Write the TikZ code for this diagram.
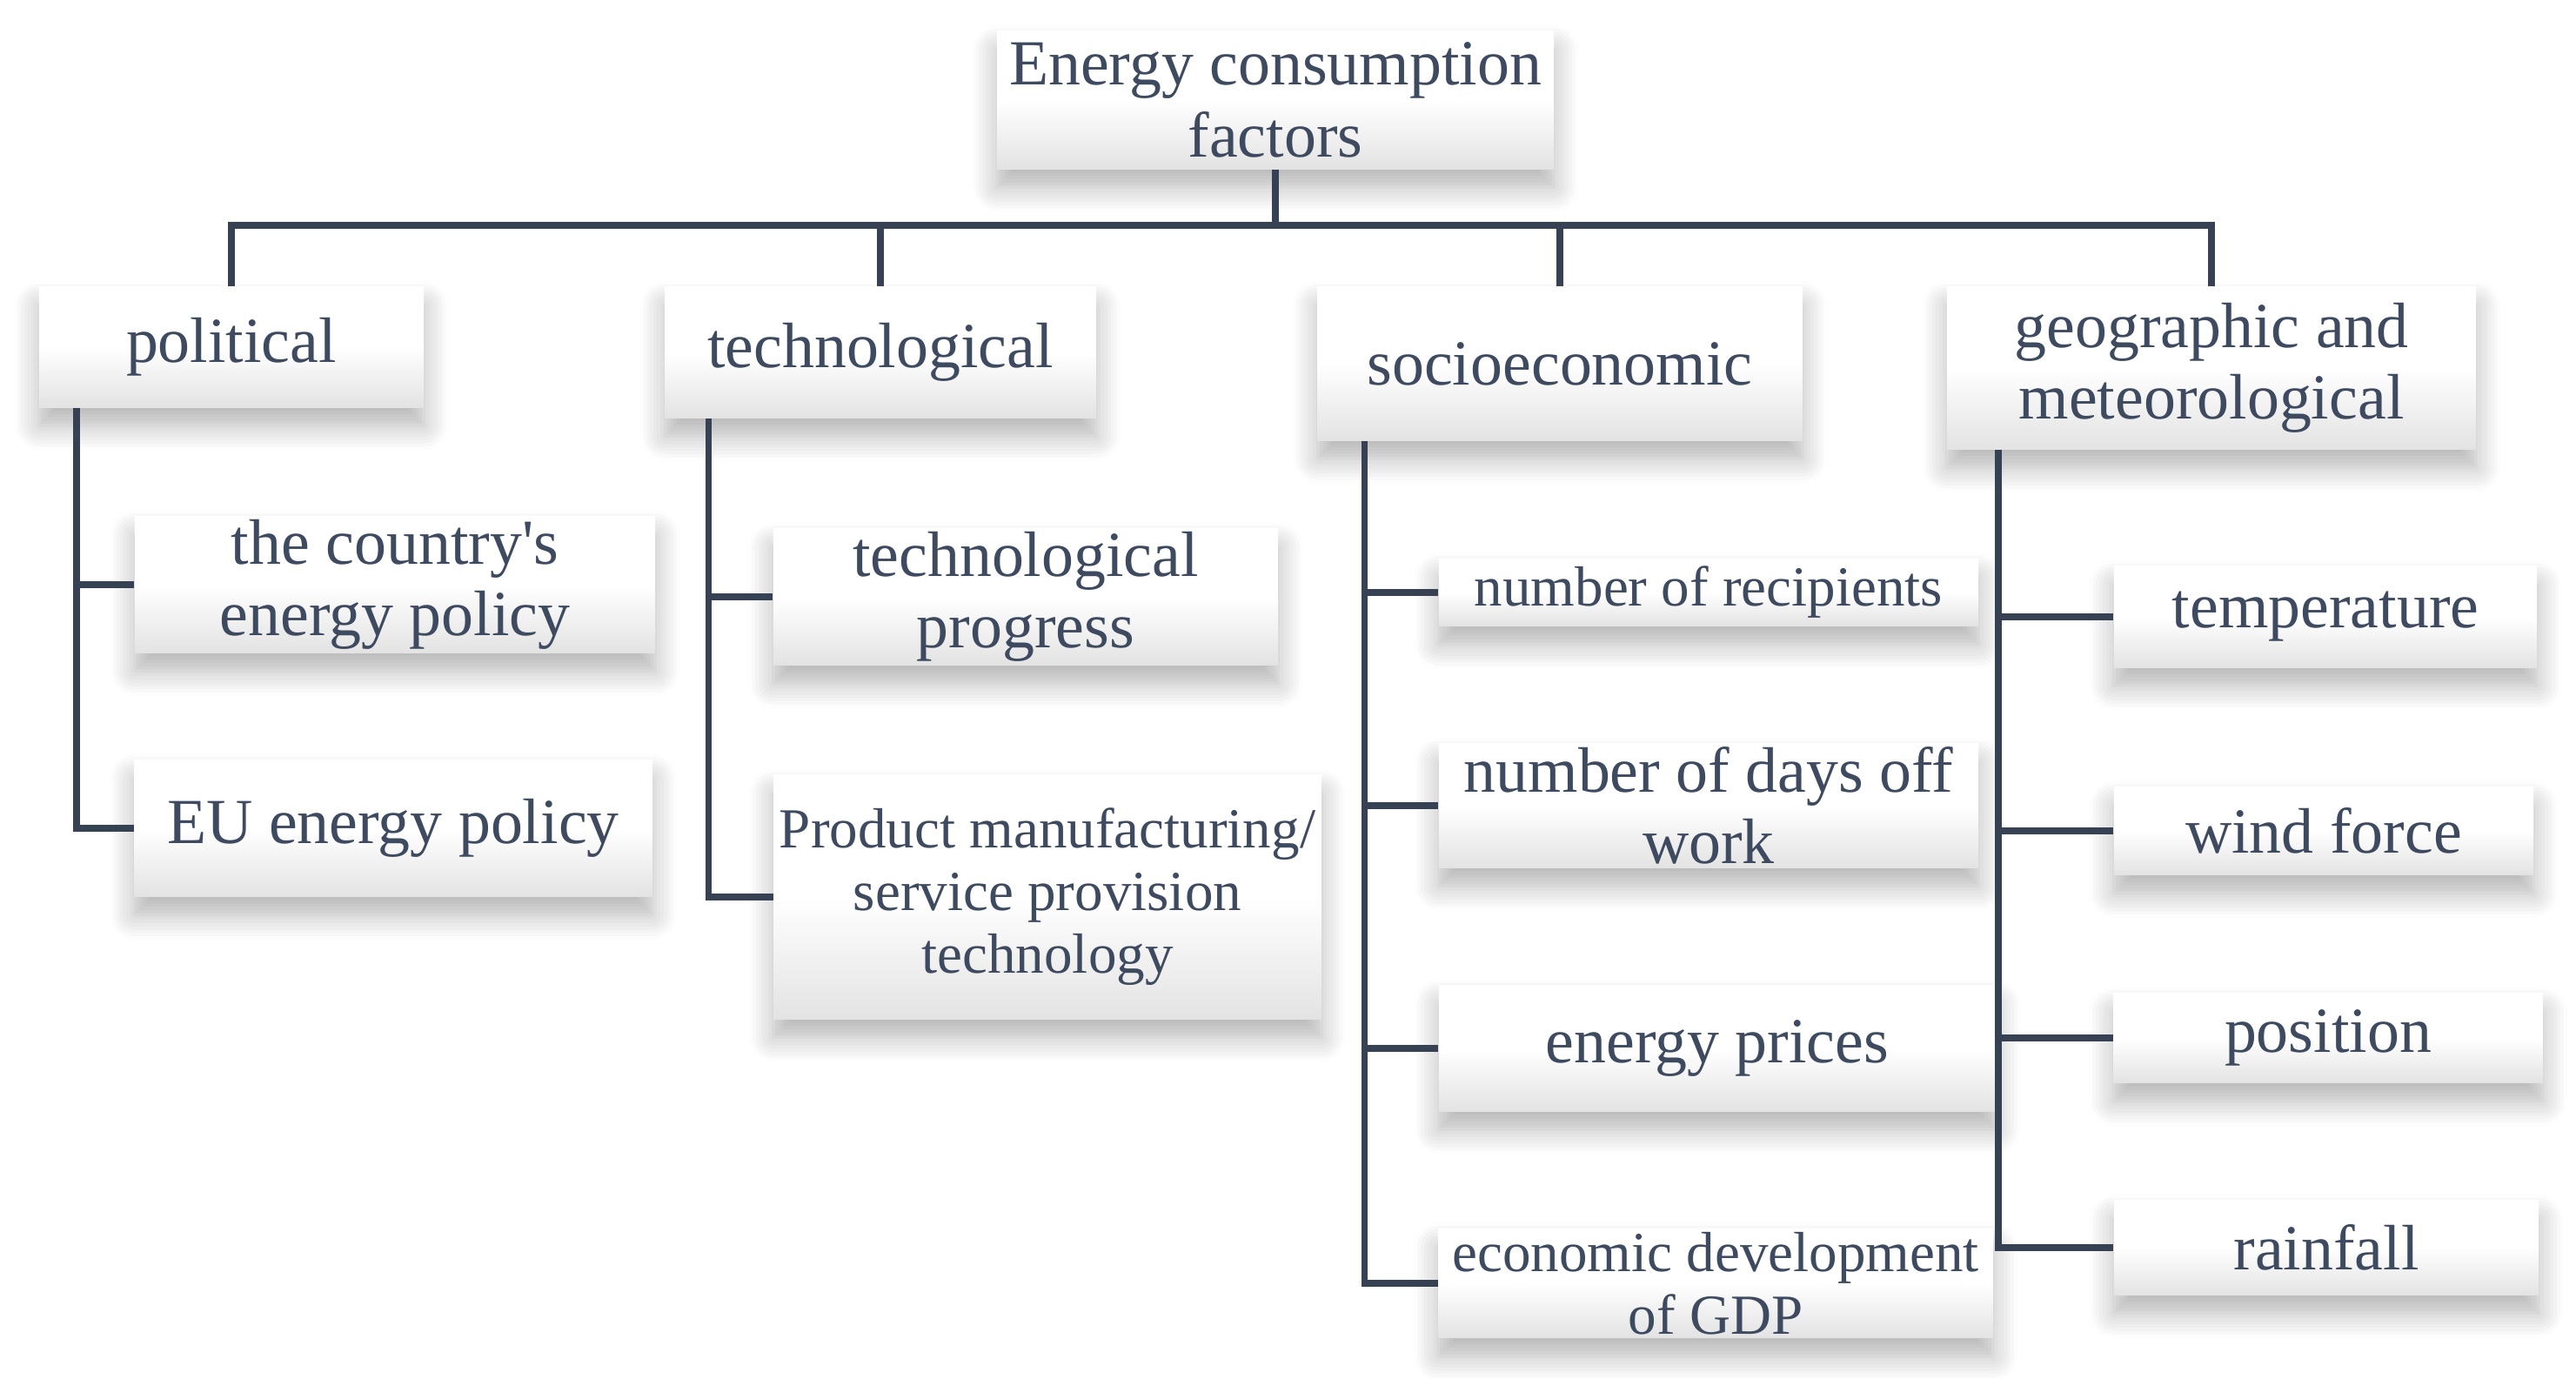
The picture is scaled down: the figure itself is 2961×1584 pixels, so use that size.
\documentclass[tikz,border=0pt]{standalone}
\usepackage{fontspec}
\setmainfont{Liberation Serif}
\usepackage{tikz}
\usetikzlibrary{shadows.blur}
\definecolor{slate}{RGB}{62,74,95}
\definecolor{wire}{RGB}{55,65,84}
\tikzstyle{box}=[rectangle, inner sep=1pt, top color=white, bottom color=black!11, middle color=white,
        blur shadow={shadow xshift=0pt, shadow yshift=-6pt, shadow blur radius=8pt, shadow blur steps=8, shadow opacity=30},
        text=slate, align=center, font=\fontsize{21}{23.5}\selectfont]
\tikzstyle{small}=[font=\fontsize{18.5}{20.5}\selectfont]
\tikzstyle{line}=[draw=wire, line width=2.1pt]

\begin{document}
\begin{tikzpicture}[x=0.01cm, y=-0.01cm]
\useasboundingbox (0,0) rectangle (2961,1584);

\node [box, minimum width=6.4cm, minimum height=1.58cm] (root) at (1466,115) {Energy consumption\\factors};

\node [box, minimum width=4.42cm, minimum height=1.38cm] (pol) at (266,399) {political};
\node [box, minimum width=4.95cm, minimum height=1.5cm] (tech) at (1012,405) {technological};
\node [box, minimum width=5.57cm, minimum height=1.76cm] (soc) at (1793,418) {socioeconomic};
\node [box, minimum width=6.08cm, minimum height=1.86cm] (geo) at (2542,423) {geographic and\\meteorological};

\node [box, minimum width=5.98cm, minimum height=1.36cm] (cty) at (454,672) {the country\textquotesingle s\\energy policy};
\node [box, minimum width=5.95cm, minimum height=1.57cm] (eu) at (452,952) {EU energy policy};

\node [box, minimum width=5.8cm, minimum height=1.41cm] (prog) at (1179,686) {technological\\progress};
\node [box, small, minimum width=6.29cm, minimum height=2.8cm] (prod) at (1204,1031) {Product manufacturing/\\service provision\\technology};

\node [box, small, minimum width=6.2cm, minimum height=0.77cm] (recip) at (1964,681) {number of recipients};
\node [box, minimum width=6.2cm, minimum height=1.42cm] (days) at (1964,926) {number of days off\\work};
\node [box, minimum width=6.4cm, minimum height=1.44cm] (price) at (1974,1205) {energy prices};
\node [box, small, minimum width=6.37cm, minimum height=1.25cm] (gdp) at (1972,1475) {economic development\\of GDP};

\node [box, minimum width=4.86cm, minimum height=1.16cm] (temp) at (2673,709) {temperature};
\node [box, minimum width=4.82cm, minimum height=1.01cm] (wind) at (2671,955) {wind force};
\node [box, minimum width=4.93cm, minimum height=1.03cm] (posn) at (2676,1193) {position};
\node [box, minimum width=4.88cm, minimum height=1.08cm] (rain) at (2674,1434) {rainfall};

\coordinate (bus) at (1466,259);
\draw [line] (root.south) -- (bus);
\draw [line] (pol.north) |- (bus) -| (geo.north);
\draw [line] (tech.north) -- (tech |- bus);
\draw [line] (soc.north) -- (soc |- bus);

\foreach \c in {cty,eu} \draw [line] (pol.south west) ++(44,0) |- (\c.west);
\foreach \c in {prog,prod} \draw [line] (tech.south west) ++(51,0) |- (\c.west);
\foreach \c in {recip,days,price,gdp} \draw [line] (soc.south west) ++(55,0) |- (\c.west);
\foreach \c in {temp,wind,posn,rain} \draw [line] (geo.south west) ++(60,0) |- (\c.west);

\end{tikzpicture}
\end{document}
